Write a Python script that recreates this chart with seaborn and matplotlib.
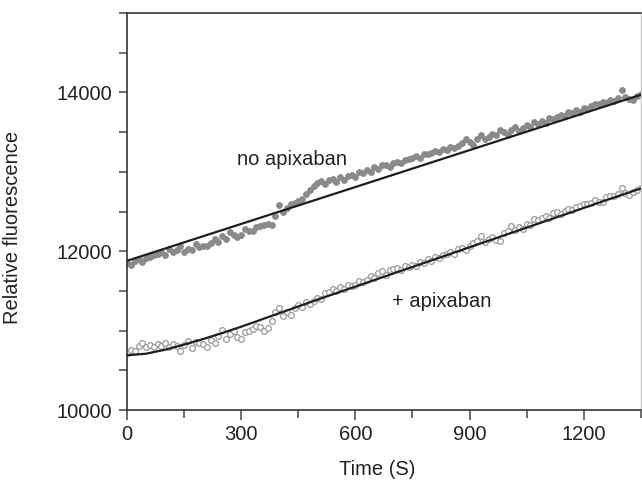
import numpy as np
import pandas as pd
import seaborn as sns
import matplotlib.pyplot as plt
from matplotlib.ticker import MultipleLocator

# sampling times (s), one reading every 10 s
time_s = list(range(0, 1360, 10))

# no apixaban (filled dots)
no_apix = [11850, 11830, 11880, 11900, 11870, 11920, 11930, 11950, 11960, 11990,
           11950, 12030, 11990, 12010, 12060, 11990, 12030, 12010, 12090, 12050,
           12070, 12060, 12110, 12150, 12120, 12190, 12160, 12240, 12210, 12180,
           12200, 12280, 12250, 12260, 12300, 12320, 12330, 12340, 12330, 12450,
           12580, 12490, 12540, 12590, 12610, 12630, 12660, 12720, 12770, 12820,
           12860, 12880, 12850, 12900, 12910, 12870, 12930, 12900, 12950, 12960,
           12940, 13000, 12980, 13020, 13000, 13060, 13040, 13080, 13090, 13060,
           13110, 13130, 13110, 13150, 13160, 13180, 13200, 13170, 13230, 13220,
           13240, 13260, 13250, 13290, 13270, 13310, 13300, 13330, 13360, 13410,
           13380, 13340, 13420, 13460, 13410, 13440, 13480, 13460, 13530, 13500,
           13470, 13530, 13560, 13520, 13550, 13590, 13570, 13630, 13600, 13640,
           13620, 13680, 13660, 13690, 13720, 13700, 13750, 13740, 13780, 13760,
           13810, 13790, 13830, 13850, 13860, 13880, 13870, 13900, 13890, 13930,
           14030, 13940, 13920, 13900, 13960, 13980]

# + apixaban (open circles)
with_apix = [10720, 10760, 10750, 10810, 10840, 10800, 10820, 10790, 10830, 10810,
             10850, 10800, 10830, 10810, 10740, 10820, 10870, 10780, 10860, 10850,
             10830, 10800, 10880, 10850, 10930, 11010, 10900, 10960, 10990, 10920,
             10890, 10980, 10990, 11020, 11060, 11040, 11000, 11030, 11120, 11230,
             11290, 11180, 11230, 11200, 11290, 11320, 11300, 11360, 11340, 11370,
             11410, 11400, 11470, 11490, 11520, 11500, 11550, 11530, 11580, 11560,
             11570, 11620, 11610, 11640, 11690, 11660, 11720, 11750, 11700, 11760,
             11780, 11790, 11760, 11820, 11800, 11830, 11810, 11870, 11850, 11900,
             11880, 11930, 11910, 11950, 11970, 11990, 11960, 12030, 12040, 12020,
             12070, 12100, 12130, 12190, 12120, 12150, 12180, 12140, 12130, 12230,
             12260, 12320, 12270, 12300, 12280, 12340, 12330, 12400, 12390, 12420,
             12440, 12420, 12480, 12490, 12470, 12510, 12530, 12520, 12560, 12570,
             12590, 12600, 12610, 12640, 12620, 12620, 12680, 12690, 12700, 12720,
             12800, 12730, 12710, 12740, 12770, 12800]

# fitted curves
fit_time_upper = [0, 1350]
fit_upper = [11880, 13970]
fit_time_lower = [0, 50, 100, 150, 200, 250, 300, 350, 400, 450, 500,
                  600, 700, 800, 900, 1000, 1100, 1200, 1300, 1350]
fit_lower = [10690, 10710, 10760, 10825, 10895, 10970, 11050, 11135, 11220, 11305,
             11390, 11555, 11720, 11885, 12050, 12215, 12380, 12545, 12710, 12790]

df = pd.DataFrame({'time': time_s, 'no': no_apix, 'apix': with_apix})

sns.set_style('ticks')
plt.rcParams['font.family'] = ['Liberation Sans', 'DejaVu Sans']

fig = plt.figure(figsize=(6.42, 4.83), dpi=100)
ax = fig.add_axes([0.198, 0.151, 0.8, 0.822])

sns.scatterplot(data=df, x='time', y='no', ax=ax, s=18, color='#8a8a8a',
                edgecolor='#8a8a8a', linewidth=0.6, zorder=2)
sns.scatterplot(data=df, x='time', y='apix', ax=ax, s=17, facecolor='white',
                edgecolor='#9a9a9a', linewidth=0.9, zorder=2)
sns.lineplot(x=fit_time_upper, y=fit_upper, ax=ax, color='#1e1e1e', lw=1.6, zorder=3)
sns.lineplot(x=fit_time_lower, y=fit_lower, ax=ax, color='#1e1e1e', lw=1.6, zorder=3)

ax.text(290, 13090, 'no apixaban', fontsize=14.5, color='#222222')
ax.text(697, 11300, '+ apixaban', fontsize=14.5, color='#222222')

ax.set_xlim(0, 1350)
ax.set_ylim(10000, 15000)
ax.xaxis.set_major_locator(MultipleLocator(300))
ax.xaxis.set_minor_locator(MultipleLocator(150))
ax.yaxis.set_major_locator(MultipleLocator(2000))
ax.yaxis.set_minor_locator(MultipleLocator(500))
ax.tick_params(which='major', length=7, width=1.1, color='#444444', labelsize=14.5,
               labelcolor='#222222')
ax.tick_params(which='minor', length=6, width=1.1, color='#444444')
ax.tick_params(axis='y', which='major', length=6, pad=5)

ax.set_xlabel('Time (S)', fontsize=14.5, color='#222222')
ax.set_ylabel('Relative fluorescence', fontsize=14.5, color='#222222')
ax.xaxis.set_label_coords(0.486, -0.125)
ax.yaxis.set_label_coords(-0.205, 0.46)

for side in ['left', 'bottom', 'top']:
    ax.spines[side].set_color('#333333')
    ax.spines[side].set_linewidth(1.2)
ax.spines['right'].set_color('#cccccc')
ax.spines['right'].set_linewidth(1.0)

fig.savefig('out.png', dpi=100)
